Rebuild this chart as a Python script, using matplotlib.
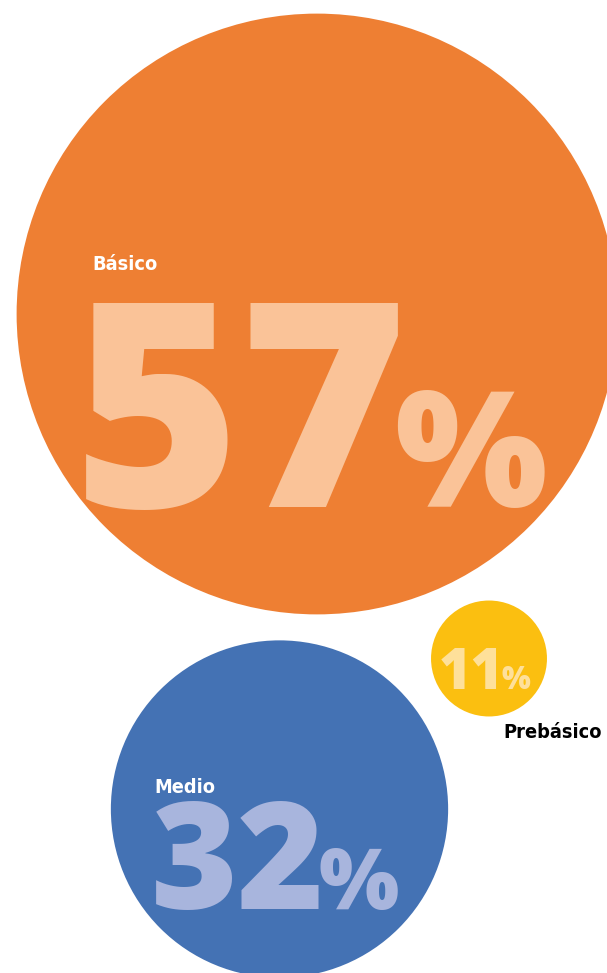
import matplotlib
matplotlib.use("Agg")
import matplotlib.pyplot as plt
from matplotlib import font_manager
from matplotlib.patches import Circle

# data
categories = ["Básico", "Medio", "Prebásico"]
values = [57, 32, 11]

# style / layout (pixel space of a 607x973 canvas)
W, H = 607, 973
PX_PER_UNIT = 5.27  # circle radius per percentage point
circle_colors = ["#EE7F33", "#4472B4", "#FBBF10"]
number_colors = ["#FAC398", "#A8B5DD", "#FEE09A"]
label_colors = ["white", "white", "black"]
centers = [(317, 314), (279.5, 809), (489, 658.5)]
number_pos = [(73, 507), (151, 909), (439, 689)]
number_sizes = [206, 107, 40]
pct_sizes = [116, 61, 22]
pct_gap = [-14, -7, -2]
label_pos = [(92, 270), (154, 793), (503, 738)]

NUM_FONT = ["Open Sans", "DejaVu Sans"]
NUM_WEIGHT = 800


def pick_label_font():
    """Use a narrow bold face if one is installed."""
    names = {f.name: f for f in font_manager.fontManager.ttflist}
    if "Liberation Sans Narrow" in names:
        return dict(family="Liberation Sans Narrow", stretch="normal"), 16.5
    for f in font_manager.fontManager.ttflist:
        if f.name == "DejaVu Sans" and "condensed" in str(f.stretch).lower():
            return dict(family="DejaVu Sans", stretch="condensed"), 14.3
    return dict(family="Liberation Sans", stretch="normal"), 14.5


label_font, LABEL_SIZE = pick_label_font()

fig = plt.figure(figsize=(W / 100, H / 100), dpi=100)
ax = fig.add_axes([0, 0, 1, 1])
ax.set_xlim(0, W)
ax.set_ylim(H, 0)
ax.set_aspect("equal")
ax.axis("off")

for i, value in enumerate(values):
    ax.add_patch(Circle(centers[i], value * PX_PER_UNIT, facecolor=circle_colors[i],
                        edgecolor="none", zorder=1))

fig.canvas.draw()
renderer = fig.canvas.get_renderer()
inv = ax.transData.inverted()

for i, (cat, value) in enumerate(zip(categories, values)):
    nx, ny = number_pos[i]
    num = ax.text(nx, ny, str(value), fontsize=number_sizes[i], fontweight=NUM_WEIGHT,
                  family=NUM_FONT, color=number_colors[i], ha="left", va="baseline",
                  zorder=3)
    bbox = num.get_window_extent(renderer)
    right = inv.transform((bbox.x1, bbox.y0))[0]
    ax.text(right + pct_gap[i], ny, "%", fontsize=pct_sizes[i], fontweight=NUM_WEIGHT,
            family=NUM_FONT, color=number_colors[i], ha="left", va="baseline", zorder=3)
    lx, ly = label_pos[i]
    ax.text(lx, ly, cat, fontsize=LABEL_SIZE, fontweight="bold",
            color=label_colors[i], ha="left", va="baseline", zorder=4, **label_font)

fig.savefig("out.png", dpi=100)
